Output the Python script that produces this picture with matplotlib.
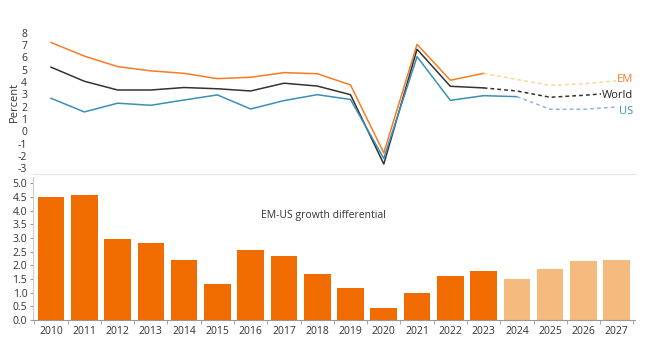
import matplotlib
matplotlib.use("Agg")
import matplotlib.pyplot as plt
import numpy as np

plt.rcParams['font.family'] = ['Open Sans', 'DejaVu Sans']
plt.rcParams['axes.unicode_minus'] = False

years = list(range(2010, 2028))

# growth, percent (2010-2027); forecasts dashed
em = [7.2, 6.1, 5.25, 4.9, 4.7, 4.27, 4.38, 4.76, 4.67, 3.76, -1.75, 7.05, 4.14, 4.7,
      4.2, 3.73, 3.85, 4.1]
world = [5.2, 4.06, 3.35, 3.35, 3.55, 3.45, 3.27, 3.9, 3.67, 2.97, -2.65, 6.65, 3.65, 3.52,
         3.27, 2.76, 2.92, 3.13]
us = [2.68, 1.57, 2.28, 2.11, 2.54, 2.95, 1.81, 2.49, 2.97, 2.58, -2.2, 6.05, 2.51, 2.89,
      2.81, 1.79, 1.79, 1.97]
em_last_actual = 2023
world_last_actual = 2023
us_last_actual = 2024

diff = [4.51, 4.56, 2.98, 2.83, 2.2, 1.32, 2.56, 2.34, 1.7, 1.16, 0.43, 0.98, 1.62, 1.8,
        1.49, 1.87, 2.16, 2.18]
bar_last_actual = 2023

c_em, c_em_f = '#f47d25', '#fdd59a'
c_w, c_w_f = '#333333', '#333333'
c_us, c_us_f = '#3a8fb7', '#8fb8e0'
c_bar, c_bar_f = '#f06c00', '#f5ba7e'

fig = plt.figure(figsize=(6.54, 3.39), dpi=100)
ax1 = fig.add_axes([0.05, 0.4853, 0.921, 0.4257])
ax2 = fig.add_axes([0.05, 0.056, 0.921, 0.4233])

x = np.arange(len(years))

def draw(ax, vals, last, col, col_f):
    k = years.index(last)
    ax.plot(x[:k + 1], vals[:k + 1], color=col, lw=1.1)
    ax.plot(x[k:], vals[k:], color=col_f, lw=1.1, ls=(0, (2.5, 2)))

draw(ax1, em, em_last_actual, c_em, c_em_f)
draw(ax1, world, world_last_actual, c_w, c_w_f)
draw(ax1, us, us_last_actual, c_us, c_us_f)

lab = dict(fontsize=8, ha='right', va='center',
           bbox=dict(facecolor='white', edgecolor='none', pad=0.5))
ax1.text(17.5, 4.2, 'EM', color=c_em, **lab)
ax1.text(17.5, 2.88, 'World', color='#222222', **lab)
ax1.text(17.5, 1.6, 'US', color=c_us, **lab)

ax1.set_xlim(-0.55, 17.55)
ax1.set_ylim(-3.5, 8.2)
ax1.set_yticks(range(-3, 9))
ax1.set_xticks([])
ax1.set_ylabel('Percent', fontsize=8, color='#333333')
ax1.yaxis.set_label_coords(-0.022, 0.5)
for s in ['top', 'right', 'left']:
    ax1.spines[s].set_visible(False)
ax1.spines['bottom'].set_color('#e6e6e6')
ax1.tick_params(axis='y', length=0, labelsize=7.5, labelcolor='#333333', pad=4)

k = years.index(bar_last_actual)
colors = [c_bar if i <= k else c_bar_f for i in range(len(years))]
ax2.bar(x, diff, width=0.8, color=colors)
ax2.text(8.2, 3.84, 'EM-US growth differential', fontsize=7.5, color='#333333',
         ha='center', va='center')
ax2.set_xlim(-0.55, 17.55)
ax2.set_ylim(0, 5.25)
ax2.set_yticks(np.arange(0, 5.01, 0.5))
ax2.set_yticklabels([f'{v:.1f}' for v in np.arange(0, 5.01, 0.5)])
ax2.set_xticks(x)
ax2.set_xticklabels(years)
ax2.set_xticks(np.arange(-0.5, 17.6, 1), minor=True)
ax2.tick_params(axis='x', which='major', length=0, labelsize=7.5, labelcolor='#333333', pad=4)
ax2.tick_params(axis='x', which='minor', length=3, color='#999999')
ax2.tick_params(axis='y', length=2, color='#999999', labelsize=7.5, labelcolor='#333333', pad=2)
for s in ['top', 'right']:
    ax2.spines[s].set_visible(False)
ax2.spines['left'].set_color('#cccccc')
ax2.spines['bottom'].set_color('#999999')

fig.savefig('out.png', dpi=100)
